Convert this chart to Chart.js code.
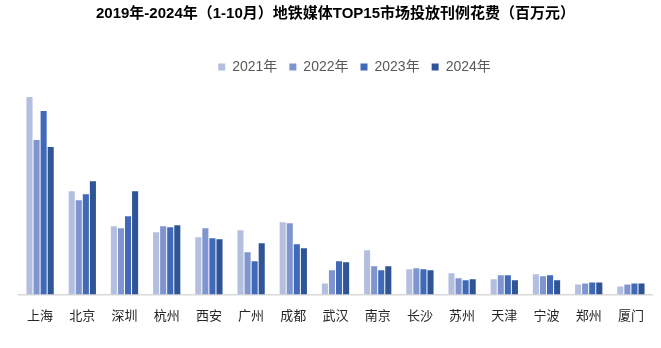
<!DOCTYPE html>
<html>
<head>
<meta charset="utf-8">
<script src="https://cdn.jsdelivr.net/npm/chart.js@4/dist/chart.umd.min.js"></script>
<style>
  html, body { margin: 0; padding: 0; background: #ffffff; }
  #wrap { width: 661px; height: 348px; }
</style>
</head>
<body>
<div id="wrap"><canvas id="c" width="661" height="348"></canvas></div>
<script>
const categories = ["上海", "北京", "深圳", "杭州", "西安", "广州", "成都", "武汉", "南京", "长沙", "苏州", "天津", "宁波", "郑州", "厦门"];
const seriesNames = ["2021年", "2022年", "2023年", "2024年"];
const v2021 = [197, 103, 68, 62, 57, 64, 72, 11, 44, 25, 21, 15, 20, 10, 8];
const v2022 = [154, 94, 66, 68, 66, 42, 71, 24, 28, 26, 16, 19, 18, 11, 10];
const v2023 = [183, 100, 78, 67, 56, 33, 50, 33, 24, 25, 14, 19, 19, 12, 11];
const v2024 = [147, 113, 103, 69, 55, 51, 46, 32, 28, 24, 15, 14, 14, 12, 11];
const titleText = "2019年-2024年（1-10月）地铁媒体TOP15市场投放刊例花费（百万元）";

const colors = ["#b4bfe0", "#7f95cf", "#4069b8", "#2f5597"];
const seriesValues = [v2021, v2022, v2023, v2024];
const FONT = "'Liberation Sans', 'Noto Sans CJK SC', sans-serif";

const shiftLegend = {
  id: 'shiftLegend',
  afterLayout(chart) {
    const lg = chart.legend;
    if (lg) { lg.left += 19; lg.right += 19; }
  }
};

new Chart(document.getElementById('c'), {
  type: 'bar',
  data: {
    labels: categories,
    datasets: seriesNames.map((n, i) => ({
      label: n,
      data: seriesValues[i],
      backgroundColor: colors[i],
      borderWidth: 0,
      categoryPercentage: 0.67,
      barPercentage: 0.86
    }))
  },
  options: {
    responsive: false,
    animation: false,
    devicePixelRatio: 1,
    layout: { padding: { left: 19, right: 9, top: 0, bottom: 12 } },
    plugins: {
      title: {
        display: true,
        text: titleText,
        color: '#000000',
        font: { family: FONT, size: 15, weight: 'bold' },
        padding: { top: 5, bottom: 25 }
      },
      legend: {
        display: true,
        position: 'top',
        labels: {
          boxWidth: 7,
          boxHeight: 7,
          padding: 12,
          color: '#595959',
          font: { family: FONT, size: 14 }
        }
      },
      tooltip: { enabled: false }
    },
    scales: {
      x: {
        grid: { display: false, drawTicks: false },
        border: { display: true, color: '#d9d9d9', width: 1.5 },
        ticks: {
          color: '#262626',
          padding: 13,
          font: { family: "'Noto Sans CJK SC', sans-serif", size: 13 }
        }
      },
      y: {
        display: false,
        min: 0,
        max: 210
      }
    }
  },
  plugins: [shiftLegend]
});
</script>
</body>
</html>
